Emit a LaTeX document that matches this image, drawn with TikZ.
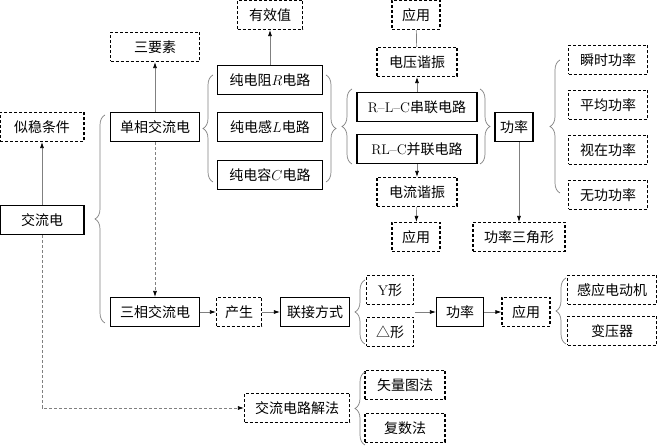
\documentclass[tikz,border=0pt]{standalone}
\usepackage{fontspec}
\newfontfamily\cjk{Noto Sans CJK SC}
\usetikzlibrary{arrows.meta,decorations.pathreplacing}
\tikzset{
  box/.style={draw, line width=1.1pt, minimum height=29pt, inner sep=1pt,
    font=\cjk\fontsize{14}{16}\selectfont},
  dbox/.style={box, dash pattern=on 3pt off 2pt},
  link/.style={draw=gray, line width=0.7pt, -{Latex[length=6pt,width=4pt,color=black]}},
  dlink/.style={link, dash pattern=on 3pt off 2pt},
  brc/.style={draw=gray, line width=0.7pt, decorate, decoration={brace, amplitude=10pt}}
}
\begin{document}
\begin{tikzpicture}[x=1pt,y=-1pt]
  \useasboundingbox (0,0) rectangle (657,446);
  % left column
  \node[dbox, minimum width=84pt] (swtj) at (42,127) {似稳条件};
  \node[box, minimum width=84pt] (jl) at (42,220) {交流电};
  % single and three phase
  \node[dbox, minimum width=89pt] (sys) at (155,47) {三要素};
  \node[box, minimum width=89pt] (dx) at (155,127) {单相交流电};
  \node[box, minimum width=89pt] (sx) at (155,312) {三相交流电};
  \node[dbox, minimum width=65pt] (yxz) at (270,15) {有效值};
  \node[box, minimum width=105pt] (cR) at (270,80) {纯电阻$R$电路};
  \node[box, minimum width=105pt] (cL) at (270,127) {纯电感$L$电路};
  \node[box, minimum width=105pt] (cC) at (270,175) {纯电容$C$电路};
  % resonance
  \node[dbox, minimum width=48pt] (yy1) at (416,15) {应用};
  \node[dbox, minimum width=80pt] (dyxz) at (417,62) {电压谐振};
  \node[box, minimum width=120pt] (clian) at (417,107) {\textrm{R--L--C}串联电路};
  \node[box, minimum width=120pt] (blian) at (417,149) {\textrm{RL--C}并联电路};
  \node[dbox, minimum width=80pt] (dlxz) at (417,192) {电流谐振};
  \node[dbox, minimum width=48pt] (yy2) at (416,237) {应用};
  % power
  \node[box, minimum width=38pt] (gl1) at (514,127) {功率};
  \node[dbox, minimum width=92pt] (gsjx) at (519,237) {功率三角形};
  \node[dbox, minimum width=79pt] (ss) at (608,60) {瞬时功率};
  \node[dbox, minimum width=79pt] (pj) at (608,105) {平均功率};
  \node[dbox, minimum width=79pt] (sz) at (608,150) {视在功率};
  \node[dbox, minimum width=79pt] (wg) at (608,195) {无功功率};
  % three phase row
  \node[dbox, minimum width=45pt] (cs) at (239,312) {产生};
  \node[box, minimum width=69pt] (ljfs) at (315,312) {联接方式};
  \node[dbox, minimum width=47pt] (yx) at (390,290) {\textrm{Y}形};
  \node[dbox, minimum width=47pt] (sjx) at (390,332) {△形};
  \coordinate (ys) at (415,312);
  \node[box, minimum width=47pt] (gl2) at (460,312) {功率};
  \node[dbox, minimum width=48pt] (yy3) at (526,312) {应用};
  \node[dbox, minimum width=89pt] (gy) at (612,290) {感应电动机};
  \node[dbox, minimum width=89pt] (byq) at (612,331) {变压器};
  % methods
  \node[dbox, minimum width=105pt] (jf) at (297,408) {交流电路解法};
  \node[dbox, minimum width=80pt] (slt) at (405,385) {矢量图法};
  \node[dbox, minimum width=80pt] (fs) at (405,428) {复数法};

  \begin{scope}[link]
    \draw (jl) to (swtj);
    \draw (dx) to (sys);
    \draw (cR) to (yxz);
    \draw (clian) to (dyxz);
    \draw (blian) to (dlxz);
    \draw (dlxz) to (yy2);
    \draw (gsjx.north |- gl1.south) to (gsjx);
    \draw (sx) to (cs);
    \draw (cs) to (ljfs);
    \draw (ys) to (gl2);
    \draw (gl2) to (yy3);
  \end{scope}
  \draw[draw=gray, line width=0.7pt] (dyxz) to (yy1);
  \draw[dlink] (dx) to (sx);
  \draw[dlink] (jl) |- (jf);

  % braces
  \draw[brc] (105,323) -- (105,115);
  \draw[brc] (213,182) -- (213,75);
  \draw[brc] (326,75) -- (326,182);
  \draw[brc] (352,164) -- (352,89);
  \draw[brc] (480,89) -- (480,164);
  \draw[brc] (560,193) -- (560,60);
  \draw[brc] (365,344) -- (365,280);
  \draw[brc] (566,344) -- (566,278);
  \draw[brc] (365,445) -- (365,372);
\end{tikzpicture}
\end{document}
